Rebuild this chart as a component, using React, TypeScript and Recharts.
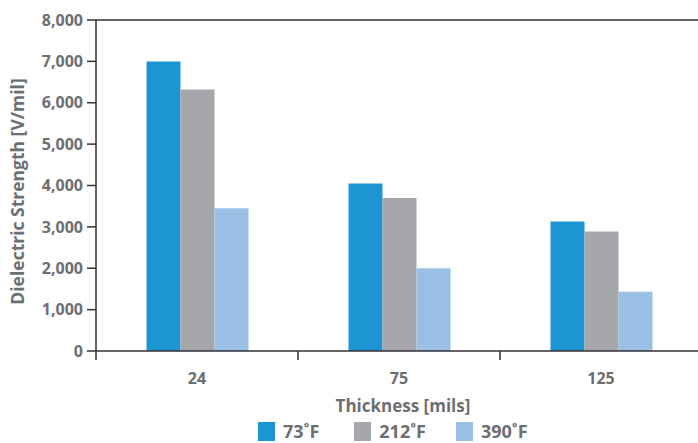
import React from 'react';
import { BarChart, Bar, XAxis, YAxis, ReferenceLine, Legend } from 'recharts';

const categories = ['24', '75', '125'];
const seriesNames = ['73˚F', '212˚F', '390˚F'];
const temp73 = [7000, 4050, 3130];
const temp212 = [6320, 3700, 2890];
const temp390 = [3450, 2000, 1430];
const yTicks = [0, 1000, 2000, 3000, 4000, 5000, 6000, 7000, 8000];

const colors = ['#1e95d3', '#a6a7ab', '#9abfe5'];
const textColor = '#6d6e71';
const axisColor = '#333135';
const fontFamily = '"Open Sans", sans-serif';

const data = categories.map((c, i) => ({
  name: c,
  s0: temp73[i],
  s1: temp212[i],
  s2: temp390[i],
}));

const XTick = (props: any) => {
  const { x, y, payload } = props;
  const off = payload && payload.offset ? payload.offset : 0;
  return (
    <g>
      <line x1={x - off} x2={x - off} y1={y - 8} y2={y + 1} stroke={axisColor} strokeWidth={1.5} />
      <text x={x} y={y + 25} textAnchor="middle" fill={textColor} fontSize={16} fontWeight={700} fontFamily={fontFamily}>
        {payload.value}
      </text>
    </g>
  );
};

const XLabel = (props: any) => {
  const vb = props.viewBox || { x: 0, y: 0, width: 0, height: 0 };
  return (
    <text x={vb.x + vb.width / 2 + 4} y={vb.y + 61} textAnchor="middle" fill={textColor} fontSize={17}
      fontWeight={700} fontFamily={fontFamily}>
      Thickness [mils]
    </text>
  );
};

const YLabel = (props: any) => {
  const vb = props.viewBox || { x: 0, y: 0, width: 0, height: 0 };
  const cx = vb.x + 17;
  const cy = vb.y + vb.height / 2 + 6;
  return (
    <text x={cx} y={cy} transform={`rotate(-90, ${cx}, ${cy})`} textAnchor="middle" dominantBaseline="central"
      fill={textColor} fontSize={17.5} fontWeight={700} fontFamily={fontFamily}>
      Dielectric Strength [V/mil]
    </text>
  );
};

const LegendContent = () => (
  <div style={{ display: 'flex', alignItems: 'center', height: 19, fontFamily, fontWeight: 700, fontSize: 18, color: textColor }}>
    {seriesNames.map((n, i) => (
      <div key={n} style={{ display: 'flex', alignItems: 'center', height: 19, marginRight: i === 0 ? 35 : 30 }}>
        <div style={{ width: 17, height: 19, background: colors[i], marginRight: 8 }} />
        <span style={{ lineHeight: '19px' }}>{n}</span>
      </div>
    ))}
  </div>
);

export default function App() {
  return (
    <div style={{ position: 'fixed', left: 0, top: 0, width: 698, height: 443, overflow: 'hidden', background: '#fff' }}>
      <BarChart width={706} height={443} data={data} margin={{ top: 20, right: 4, bottom: 0, left: 0 }}
        barCategoryGap="25%" barGap={0}>
        <ReferenceLine y={8000} stroke={axisColor} strokeWidth={1.5} ifOverflow="extendDomain" />
        <XAxis dataKey="name" height={70} axisLine={{ stroke: axisColor, strokeWidth: 1.5 }} tickLine={false}
          tick={<XTick />} interval={0} label={<XLabel />} />
        <YAxis domain={[0, 8000]} ticks={yTicks} width={96} interval={0}
          axisLine={{ stroke: axisColor, strokeWidth: 1.5 }} tickLine={{ stroke: axisColor, strokeWidth: 1.5 }}
          tickSize={9} tickMargin={4}
          tickFormatter={(v: number) => v.toLocaleString('en-US')}
          tick={{ fill: textColor, fontSize: 16, fontWeight: 700, fontFamily }}
          label={<YLabel />} />
        <Legend verticalAlign="bottom" content={<LegendContent />}
          wrapperStyle={{ left: 258, top: 422, bottom: 'auto', width: 330, height: 22, overflow: 'visible' }} />
        <Bar dataKey="s0" name={seriesNames[0]} fill={colors[0]} isAnimationActive={false} />
        <Bar dataKey="s1" name={seriesNames[1]} fill={colors[1]} isAnimationActive={false} />
        <Bar dataKey="s2" name={seriesNames[2]} fill={colors[2]} isAnimationActive={false} />
      </BarChart>
    </div>
  );
}
